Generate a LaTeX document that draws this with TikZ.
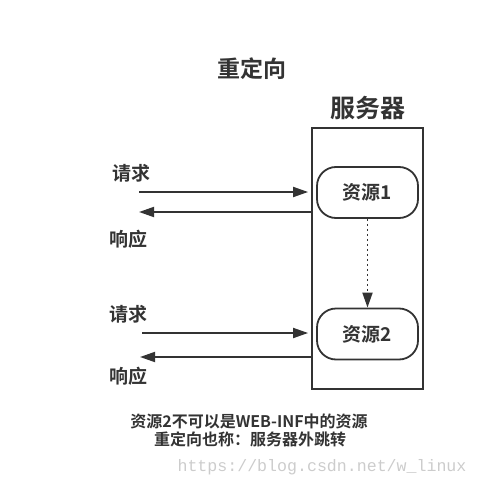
\documentclass[tikz,border=0pt]{standalone}
\usepackage{fontspec}
\newfontfamily\cjk{Noto Sans CJK SC Bold}
\setmonofont{Liberation Mono}
\usetikzlibrary{arrows.meta}
\definecolor{ink}{HTML}{333333}
\tikzset{
  lbl/.style={font=\cjk\fontsize{19}{22}\selectfont, text=ink, inner sep=0pt},
  res/.style={draw=ink, line width=1.8pt, rounded corners=19pt, minimum width=101pt, minimum height=51pt, font=\cjk\fontsize{19}{22}\selectfont, text=ink},
  arr/.style={draw=ink, line width=1.8pt, -{Triangle[length=15pt,width=10pt]}},
}
\begin{document}
\begin{tikzpicture}[x=1pt,y=-1pt]
\useasboundingbox (0,0) rectangle (479,486);
\node[lbl, font=\cjk\fontsize{23}{26}\selectfont] (title) at (252,69) {重定向};
\node[lbl, font=\cjk\fontsize{25}{28}\selectfont] (srvlabel) at (368,108) {服务器};
\node[draw=ink, line width=1.8pt, minimum width=111pt, minimum height=261pt, inner sep=0pt] (srv) at (367.5,258.5) {};
\node[res] (r1) at (367.5,192.5) {资源1};
\node[res] (r2) at (367.5,334) {资源2};
\draw[arr, dash pattern=on 2.5pt off 2.5pt] (r1.south) -- (r2.north);
% first pair
\node[lbl] (q1) at (131,173) {请求};
\node[lbl] (p1) at (128,239) {响应};
\coordinate (q1s) at (139,192);
\coordinate (p1e) at (139,212);
\draw[arr, shorten >=3pt] (q1s) -- (q1s -| srv.west);
\draw[arr] (p1e -| srv.west) -- (p1e);
% second pair
\node[lbl] (q2) at (128,314) {请求};
\node[lbl] (p2) at (128,376) {响应};
\coordinate (q2s) at (142,333);
\coordinate (p2e) at (140,357);
\draw[arr, shorten >=3pt] (q2s) -- (q2s -| srv.west);
\draw[arr] (p2e -| srv.west) -- (p2e);
% notes
\node[lbl, font=\cjk\fontsize{16}{19}\selectfont] (n1) at (249,421) {资源2不可以是WEB-INF中的资源};
\node[lbl, font=\cjk\fontsize{16}{19}\selectfont] (n2) at (250,439) {重定向也称：服务器外跳转};
\node[inner sep=0pt, font=\ttfamily\fontsize{16.6}{19}\selectfont, text=black!20] (wm) at (322,467) {https://blog.csdn.net/w\_linux};
\end{tikzpicture}
\end{document}
